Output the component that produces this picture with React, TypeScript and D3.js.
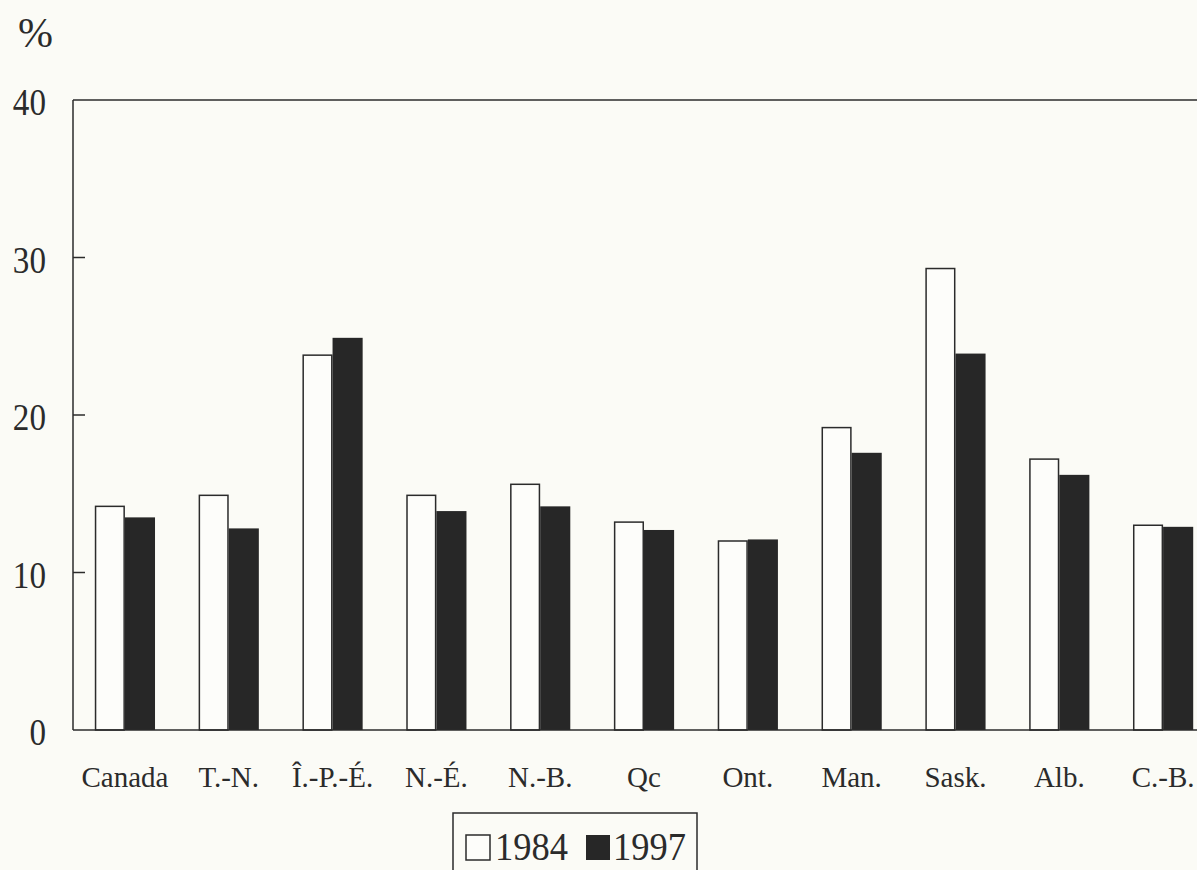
import React from 'react'
import * as d3 from 'd3'

// provinces, left to right
const categories = ['Canada', 'T.-N.', 'Î.-P.-É.', 'N.-É.', 'N.-B.', 'Qc', 'Ont.', 'Man.', 'Sask.', 'Alb.', 'C.-B.']
const series = ['1984', '1997']
const values1984 = [14.2, 14.9, 23.8, 14.9, 15.6, 13.2, 12.0, 19.2, 29.3, 17.2, 13.0]
const values1997 = [13.5, 12.8, 24.9, 13.9, 14.2, 12.7, 12.1, 17.6, 23.9, 16.2, 12.9]
const yTicks = [0, 10, 20, 30, 40]

const width = 1197
const height = 870
const left = 73
const top = 100
const bottom = 730
const ink = '#2b2b2b'
const font = '"Liberation Serif", "Times New Roman", serif'

function App() {
    const x = d3.scaleBand<string>()
        .domain(categories)
        .range([left, 1215])
        .paddingInner(0.42)
        .paddingOuter(0.21)
    const xs = d3.scaleBand<string>().domain(series).range([0, x.bandwidth()])
    const y = d3.scaleLinear().domain([0, 40]).range([bottom, top])

    const rows = categories.map((c, i) => ({ c, v: [values1984[i], values1997[i]] }))

    return (
        <svg width={width} height={height} style={{ position: 'absolute', left: 0, top: 0, background: '#fbfbf6' }}
            fontFamily={font}>
            <rect x={0} y={0} width={width} height={height} fill="#fbfbf6" />
            <text x={18} y={47} fontSize={42} fill={ink}>%</text>

            {/* y axis */}
            <line x1={left} x2={left} y1={top} y2={bottom} stroke={ink} strokeWidth={1.5} />
            <line x1={left} x2={width} y1={y(40)} y2={y(40)} stroke={ink} strokeWidth={1.5} />
            {yTicks.map(t => (
                <g key={t}>
                    {t > 0 && t < 40 && <line x1={left} x2={left + 12} y1={y(t)} y2={y(t)} stroke={ink} strokeWidth={1.5} />}
                    <text transform={`translate(46,${y(t) + 15}) scale(0.85,1)`} fontSize={39} textAnchor="end" fill={ink}>{t}</text>
                </g>
            ))}

            {/* bars */}
            {rows.map(r => (
                <g key={r.c} transform={`translate(${x(r.c)},0)`}>
                    {series.map((s, j) => (
                        <rect key={s}
                            x={xs(s)! + (j === 0 ? 0.75 : 0)}
                            y={y(r.v[j])}
                            width={xs.bandwidth() - (j === 0 ? 1.5 : 0)}
                            height={bottom - y(r.v[j])}
                            fill={j === 0 ? '#fdfdfa' : '#272727'}
                            stroke={j === 0 ? ink : 'none'}
                            strokeWidth={1.5} />
                    ))}
                    <text x={x.bandwidth() / 2} y={787} fontSize={29} textAnchor="middle" fill={ink}>{r.c}</text>
                </g>
            ))}

            <line x1={left} x2={width} y1={bottom} y2={bottom} stroke={ink} strokeWidth={1.5} />

            {/* legend */}
            <rect x={453} y={813} width={244} height={80} fill="none" stroke={ink} strokeWidth={1.5} />
            <rect x={466} y={835} width={24} height={25} fill="#fdfdfa" stroke={ink} strokeWidth={1.5} />
            <text transform="translate(495,860) scale(0.89,1)" fontSize={41} fill={ink}>{series[0]}</text>
            <rect x={586} y={835} width={24} height={25} fill="#272727" />
            <text transform="translate(613,860) scale(0.89,1)" fontSize={41} fill={ink}>{series[1]}</text>
        </svg>
    )
}

export default App
